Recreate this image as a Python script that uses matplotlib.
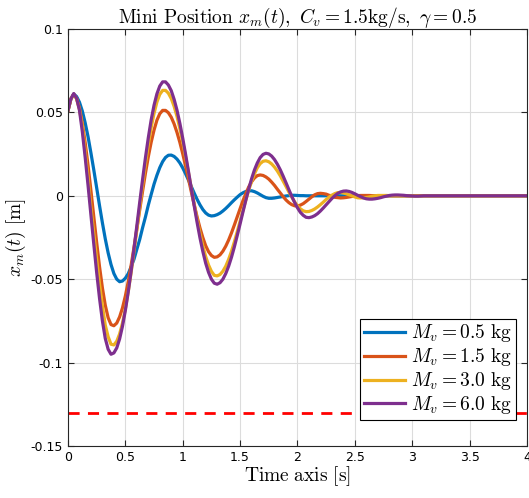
import numpy as np
import matplotlib
matplotlib.use("Agg")
import matplotlib.pyplot as plt

plt.rcParams['mathtext.fontset'] = 'cm'
plt.rcParams['font.family'] = ['DejaVu Sans']

# read-off samples every 0.025 s from t = 0; after the last sample the response stays at 0 up to 4 s
dt = 0.025
t_end = 4.0

x_05 = [0.051, 0.058, 0.061, 0.0595, 0.0561, 0.0508, 0.0437, 0.0354, 0.0257, 0.0155,
        0.0048, -0.0059, -0.0162, -0.0258, -0.0342, -0.0412, -0.0466, -0.0500, -0.0515, -0.0511,
        -0.0494, -0.0467, -0.0426, -0.0381, -0.0321, -0.0262, -0.0192, -0.0127, -0.0056, 0.0008,
        0.0070, 0.0123, 0.0169, 0.0205, 0.0230, 0.0243, 0.0244, 0.0236, 0.0220, 0.0197,
        0.0167, 0.0132, 0.0094, 0.0055, 0.0016, -0.0021, -0.0054, -0.0082, -0.0103, -0.0116,
        -0.0121, -0.0119, -0.0113, -0.0104, -0.0091, -0.0076, -0.0059, -0.0041, -0.0024, -0.0008,
        0.0007, 0.0018, 0.0026, 0.0030, 0.0030, 0.0025, 0.0017, 0.0007, -0.0003, -0.0011,
        -0.0015, -0.0015, -0.0013, -0.0010, -0.0007, -0.0004, -0.0001, 0.0001, 0.0003, 0.0003,
        0.0002, 0.0001, 0.0001, 0.0, 0.0]

x_15 = [0.051, 0.058, 0.0609, 0.0584, 0.0526, 0.0436, 0.0318, 0.0182, 0.0031, -0.0126,
        -0.0280, -0.0425, -0.0552, -0.0656, -0.0731, -0.0772, -0.0779, -0.0763, -0.0726, -0.0672,
        -0.0601, -0.0515, -0.0418, -0.0311, -0.0199, -0.0085, 0.0027, 0.0135, 0.0234, 0.0321,
        0.0394, 0.0453, 0.0492, 0.0512, 0.0512, 0.0498, 0.0471, 0.0431, 0.0380, 0.0320,
        0.0252, 0.0178, 0.0101, 0.0023, -0.0054, -0.0126, -0.0192, -0.0250, -0.0299, -0.0335,
        -0.0358, -0.0369, -0.0366, -0.0354, -0.0332, -0.0302, -0.0265, -0.0222, -0.0175, -0.0126,
        -0.0077, -0.0029, 0.0014, 0.0053, 0.0084, 0.0107, 0.0121, 0.0125, 0.0122, 0.0113,
        0.0100, 0.0082, 0.0062, 0.0039, 0.0017, -0.0005, -0.0025, -0.0041, -0.0053, -0.0060,
        -0.0061, -0.0056, -0.0047, -0.0034, -0.0020, -0.0006, 0.0006, 0.0013, 0.0015, 0.0013,
        0.0010, 0.0003, -0.0001, -0.0009, -0.0011, -0.0013, -0.0012, -0.0010, -0.0007, -0.0004,
        -0.0001, 0.0001, 0.0002, 0.0002, 0.0002, 0.0002, 0.0001, 0.0]

x_30 = [0.051, 0.058, 0.0609, 0.0582, 0.0518, 0.0419, 0.0265, 0.0110, -0.0070, -0.0225,
        -0.0380, -0.0530, -0.0660, -0.0775, -0.0845, -0.0890, -0.0894, -0.0872, -0.0828, -0.0763,
        -0.0678, -0.0575, -0.0462, -0.0335, -0.0203, -0.0069, 0.0064, 0.0190, 0.0306, 0.0409,
        0.0494, 0.0562, 0.0608, 0.0632, 0.0632, 0.0615, 0.0583, 0.0536, 0.0476, 0.0403,
        0.0322, 0.0233, 0.0139, 0.0045, -0.0050, -0.0140, -0.0224, -0.0300, -0.0364, -0.0415,
        -0.0453, -0.0477, -0.0480, -0.0472, -0.0452, -0.0422, -0.0381, -0.0332, -0.0276, -0.0215,
        -0.0152, -0.0087, -0.0025, 0.0034, 0.0086, 0.0132, 0.0168, 0.0193, 0.0207, 0.0210,
        0.0204, 0.0191, 0.0172, 0.0148, 0.0120, 0.0088, 0.0056, 0.0023, -0.0008, -0.0036,
        -0.0060, -0.0078, -0.0090, -0.0095, -0.0094, -0.0088, -0.0079, -0.0067, -0.0053, -0.0038,
        -0.0022, -0.0008, 0.0004, 0.0013, 0.0019, 0.0020, 0.0017, 0.0012, 0.0006, 0.0000,
        -0.0007, -0.0012, -0.0013, -0.0012, -0.0010, -0.0007, -0.0003, 0.0000, 0.0002, 0.0002,
        0.0002, 0.0002, 0.0001, 0.0]

x_60 = [0.051, 0.058, 0.0613, 0.0585, 0.0513, 0.0385, 0.0230, 0.0062, -0.0115, -0.0290,
        -0.0460, -0.0615, -0.0750, -0.0855, -0.0920, -0.0950, -0.0942, -0.0912, -0.0858, -0.0782,
        -0.0687, -0.0576, -0.0453, -0.0320, -0.0181, -0.0040, 0.0097, 0.0228, 0.0348, 0.0455,
        0.0543, 0.0611, 0.0658, 0.0683, 0.0683, 0.0664, 0.0630, 0.0578, 0.0513, 0.0434,
        0.0345, 0.0248, 0.0146, 0.0042, -0.0060, -0.0159, -0.0251, -0.0333, -0.0404, -0.0459,
        -0.0500, -0.0524, -0.0530, -0.0521, -0.0500, -0.0466, -0.0422, -0.0368, -0.0306, -0.0238,
        -0.0168, -0.0096, -0.0026, 0.0041, 0.0102, 0.0155, 0.0197, 0.0229, 0.0248, 0.0255,
        0.0251, 0.0238, 0.0217, 0.0189, 0.0156, 0.0118, 0.0078, 0.0037, -0.0003, -0.0040,
        -0.0072, -0.0099, -0.0117, -0.0129, -0.0131, -0.0127, -0.0119, -0.0107, -0.0091, -0.0073,
        -0.0054, -0.0035, -0.0016, 0.0000, 0.0014, 0.0023, 0.0028, 0.0029, 0.0026, 0.0020,
        0.0012, 0.0003, -0.0005, -0.0013, -0.0018, -0.0020, -0.0020, -0.0018, -0.0015, -0.0011,
        -0.0006, -0.0002, 0.0002, 0.0004, 0.0005, 0.0005, 0.0004, 0.0003, 0.0001, 0.0000,
        -0.0001, -0.0002, -0.0002, -0.0001, 0.0]

masses = ["0.5", "1.5", "3.0", "6.0"]
colors = ["#0072BD", "#D95319", "#EDB120", "#7E2F8E"]
limit = -0.13

fig = plt.figure(figsize=(5.29, 4.98), dpi=100)
ax = fig.add_axes([0.1285, 0.1044, 0.8677, 0.8374])

for m, x, c in zip(masses, [x_05, x_15, x_30, x_60], colors):
    tt = np.append(np.arange(len(x)) * dt, t_end)
    ax.plot(tt, x + [0.0], color=c, lw=2.3, label=r'$M_v = %s\ \mathrm{kg}$' % m)
ax.axhline(limit, color='red', ls='--', lw=2, dashes=(4, 3))

ax.set_xlim(0, 4)
ax.set_ylim(-0.15, 0.1)
ax.set_xticks(np.arange(0, 4.01, 0.5))
ax.set_xticklabels(["0", "0.5", "1", "1.5", "2", "2.5", "3", "3.5", "4"])
ax.set_yticks([-0.15, -0.1, -0.05, 0, 0.05, 0.1])
ax.set_yticklabels(["-0.15", "-0.1", "-0.05", "0", "0.05", "0.1"])
ax.tick_params(direction='in', top=True, right=True, labelsize=9, length=4, color='#262626')
ax.grid(True, color='#dcdcdc', lw=0.8)
for s in ax.spines.values():
    s.set_color('#262626')
    s.set_linewidth(0.8)

ax.set_title(r'$\mathrm{Mini\ Position}\ x_m(t),\ C_v = 1.5\mathrm{kg/s},\ \gamma = 0.5$', fontsize=14, pad=4)
ax.set_xlabel(r'$\mathrm{Time\ axis\ [s]}$', fontsize=14, labelpad=0)
ax.set_ylabel(r'$x_m(t)\ \mathrm{[m]}$', fontsize=14, labelpad=2)

leg = ax.legend(loc='lower right', bbox_to_anchor=(0.976, 0.062), borderaxespad=0,
                fontsize=14, fancybox=False, framealpha=1, edgecolor='black',
                borderpad=0.2, labelspacing=0.1, handlelength=2.1, handletextpad=0.35)
leg.get_frame().set_linewidth(0.8)

fig.savefig("out.png", dpi=100)
